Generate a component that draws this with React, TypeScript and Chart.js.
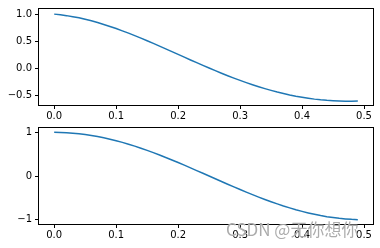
import React, { useEffect, useRef } from "react";
import { Chart, registerables } from "chart.js";

Chart.register(...registerables);

const xValues = [
  0.0, 0.01, 0.02, 0.03, 0.04, 0.05, 0.06, 0.07, 0.08, 0.09,
  0.1, 0.11, 0.12, 0.13, 0.14, 0.15, 0.16, 0.17, 0.18, 0.19,
  0.2, 0.21, 0.22, 0.23, 0.24, 0.25, 0.26, 0.27, 0.28, 0.29,
  0.3, 0.31, 0.32, 0.33, 0.34, 0.35, 0.36, 0.37, 0.38, 0.39,
  0.4, 0.41, 0.42, 0.43, 0.44, 0.45, 0.46, 0.47, 0.48, 0.49,
];

const topValues = [
  1.0, 0.988, 0.972, 0.953, 0.931, 0.905, 0.876, 0.844, 0.809, 0.772,
  0.732, 0.69, 0.647, 0.601, 0.554, 0.506, 0.457, 0.406, 0.356, 0.304,
  0.253, 0.202, 0.15, 0.1, 0.049, 0.0, -0.048, -0.096, -0.142, -0.186,
  -0.229, -0.27, -0.309, -0.346, -0.381, -0.414, -0.445, -0.473, -0.499, -0.522,
  -0.542, -0.56, -0.576, -0.589, -0.599, -0.606, -0.611, -0.614, -0.614, -0.611,
];

const bottomValues = [
  1.0, 0.998, 0.992, 0.982, 0.969, 0.951, 0.93, 0.905, 0.876, 0.844,
  0.809, 0.771, 0.729, 0.685, 0.637, 0.588, 0.536, 0.482, 0.426, 0.368,
  0.309, 0.249, 0.187, 0.125, 0.063, 0.0, -0.063, -0.125, -0.187, -0.249,
  -0.309, -0.368, -0.426, -0.482, -0.536, -0.588, -0.637, -0.685, -0.729, -0.771,
  -0.809, -0.844, -0.876, -0.905, -0.93, -0.951, -0.969, -0.982, -0.992, -0.998,
];

const xTicks = [0, 0.1, 0.2, 0.3, 0.4, 0.5];
const topYTicks = [-0.5, 0, 0.5, 1.0];
const bottomYTicks = [-1, 0, 1];

const FONT = { family: "'DejaVu Sans', sans-serif", size: 10 };

const boxPlugin = {
  id: "box",
  afterDraw(chart: any) {
    const { ctx, chartArea } = chart;
    ctx.save();
    ctx.strokeStyle = "#000";
    ctx.lineWidth = 1;
    ctx.strokeRect(
      Math.round(chartArea.left) - 0.5,
      Math.round(chartArea.top) - 0.5,
      Math.round(chartArea.right - chartArea.left) + 1,
      Math.round(chartArea.bottom - chartArea.top) + 1
    );
    ctx.restore();
  },
};

function fmtMinus(s: string) {
  return s.replace("-", "\u2212");
}

function makeConfig(
  values: number[],
  yMin: number,
  yMax: number,
  yTicks: number[],
  yDigits: number,
  padTop: number,
  padBottom: number
): any {
  return {
    type: "line",
    data: {
      datasets: [
        {
          data: xValues.map((x, i) => ({ x, y: values[i] })),
          borderColor: "#1f77b4",
          borderWidth: 1.5,
          pointRadius: 0,
          tension: 0,
          fill: false,
        },
      ],
    },
    options: {
      animation: false,
      responsive: false,
      maintainAspectRatio: false,
      layout: { padding: { top: padTop, right: 7, left: 0, bottom: padBottom } },
      plugins: { legend: { display: false }, tooltip: { enabled: false } },
      scales: {
        x: {
          type: "linear",
          min: -0.0245,
          max: 0.5145,
          afterBuildTicks: (s: any) => {
            s.ticks = xTicks.map((v) => ({ value: v }));
          },
          afterFit: (s: any) => {
            s.height = 17;
          },
          border: { display: false },
          grid: {
            drawOnChartArea: false,
            drawTicks: true,
            tickLength: 4,
            tickColor: "#000",
          },
          ticks: {
            font: FONT,
            color: "#000",
            padding: 1,
            maxRotation: 0,
            autoSkip: false,
            callback: (v: any) => fmtMinus(Number(v).toFixed(1)),
          },
        },
        y: {
          type: "linear",
          min: yMin,
          max: yMax,
          afterBuildTicks: (s: any) => {
            s.ticks = yTicks.map((v) => ({ value: v }));
          },
          afterFit: (s: any) => {
            s.width = 39;
          },
          border: { display: false },
          grid: {
            drawOnChartArea: false,
            drawTicks: true,
            tickLength: 4,
            tickColor: "#000",
          },
          ticks: {
            font: FONT,
            color: "#000",
            padding: 3,
            autoSkip: false,
            callback: (v: any) => fmtMinus(Number(v).toFixed(yDigits)),
          },
        },
      },
    },
    plugins: [boxPlugin],
  };
}

export default function App() {
  const topRef = useRef<HTMLCanvasElement>(null);
  const botRef = useRef<HTMLCanvasElement>(null);

  useEffect(() => {
    const c1 = new Chart(
      topRef.current!,
      makeConfig(topValues, -0.685, 1.095, topYTicks, 1, 6, 0)
    );
    const c2 = new Chart(
      botRef.current!,
      makeConfig(bottomValues, -1.098, 1.1, bottomYTicks, 0, 6, 7)
    );
    return () => {
      c1.destroy();
      c2.destroy();
    };
  }, []);

  return (
    <div
      style={{
        position: "fixed",
        left: 0,
        top: 0,
        width: 380,
        height: 248,
        background: "#fff",
        overflow: "hidden",
      }}
    >
      <canvas
        ref={topRef}
        width={380}
        height={122}
        style={{ position: "absolute", left: 0, top: 0, width: 380, height: 122 }}
      />
      <canvas
        ref={botRef}
        width={380}
        height={129}
        style={{ position: "absolute", left: 0, top: 119, width: 380, height: 129 }}
      />
      <div
        style={{
          position: "absolute",
          left: 226,
          top: 219,
          fontFamily: "'Noto Sans CJK SC', 'Noto Sans', sans-serif",
          fontSize: 17,
          color: "rgba(150,150,150,0.8)",
          textShadow: "0 0 1px #fff",
          whiteSpace: "nowrap",
          lineHeight: "20px",
        }}
      >
        CSDN @无你想你
      </div>
    </div>
  );
}
